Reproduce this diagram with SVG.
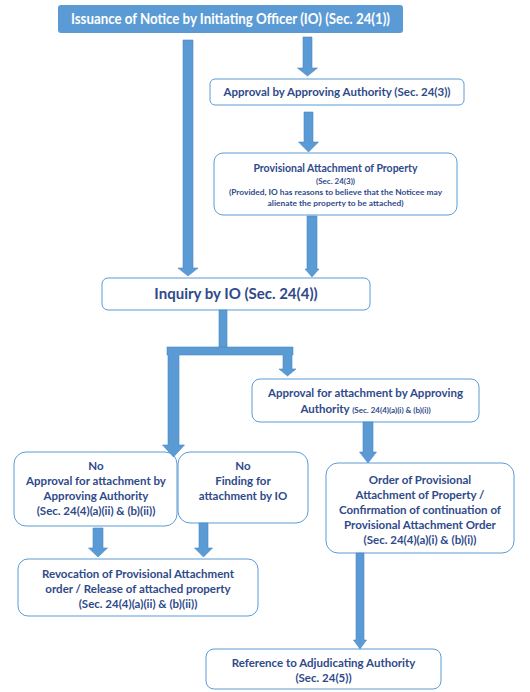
<svg xmlns="http://www.w3.org/2000/svg" width="530" height="692" viewBox="0 0 530 692">
<style>
.box{fill:#ffffff;stroke:#5b9bd5;stroke-width:1}
.arr{fill:#5b9bd5;stroke:#4a88c2;stroke-width:0.6}
text{font-family:Lato,"Liberation Sans",sans-serif;font-weight:bold;fill:#2f4a8a;text-anchor:middle}
.t{font-size:11.5px}
.s{font-size:8px}
</style>
<rect width="530" height="692" fill="#ffffff"/>
<g id="n-notice">
<rect x="58" y="5" width="345" height="28" rx="3" fill="#5b9bd5"/>
<text x="230.5" y="24" style="font-size:14.5px;fill:#ffffff" textLength="319" lengthAdjust="spacingAndGlyphs">Issuance of Notice by Initiating Officer (IO) (Sec. 24(1))</text>
</g>
<g id="n-approval">
<rect class="box" x="210" y="79" width="254" height="26" rx="5"/>
<text class="t" x="337" y="96">Approval by Approving Authority (Sec. 24(3))</text>
</g>
<g id="n-provisional">
<rect class="box" x="214" y="153" width="243" height="62" rx="9"/>
<text x="335.5" y="172" style="font-size:10.5px">Provisional Attachment of Property</text>
<text class="s" x="335.5" y="184">(Sec. 24(3))</text>
<text x="335.5" y="195" style="font-size:8.4px">(Provided, IO has reasons to believe that the Noticee may</text>
<text x="335.5" y="206" style="font-size:8.4px">alienate the property to be attached)</text>
</g>
<g id="n-inquiry">
<rect class="box" x="102" y="278" width="268" height="32" rx="6"/>
<text x="236" y="299" style="font-size:15px">Inquiry by IO (Sec. 24(4))</text>
</g>
<g id="n-approval-att">
<rect class="box" x="252" y="379" width="227" height="43" rx="8"/>
<text class="t" x="365.5" y="397">Approval for attachment by Approving</text>
<text class="t" x="365.5" y="413">Authority <tspan class="s">(Sec. 24(4)(a)(i) &amp; (b)(i))</tspan></text>
</g>
<g id="n-no-approval">
<rect class="box" x="14" y="452" width="163" height="74" rx="12"/>
<text class="t" x="96" y="470">No</text>
<text class="t" x="96" y="485">Approval for attachment by</text>
<text class="t" x="96" y="500">Approving Authority</text>
<text class="t" x="96" y="515">(Sec. 24(4)(a)(ii) &amp; (b)(ii))</text>
</g>
<g id="n-no-finding">
<rect class="box" x="178" y="452" width="130" height="71" rx="12"/>
<text class="t" x="243" y="470">No</text>
<text class="t" x="243" y="485">Finding for</text>
<text class="t" x="243" y="500">attachment by IO</text>
</g>
<g id="n-order">
<rect class="box" x="326" y="463" width="188" height="90" rx="12"/>
<text class="t" x="420" y="484">Order of Provisional</text>
<text class="t" x="420" y="499">Attachment of Property /</text>
<text class="t" x="420" y="514">Confirmation of continuation of</text>
<text class="t" x="420" y="529">Provisional Attachment Order</text>
<text class="t" x="420" y="544">(Sec. 24(4)(a)(i) &amp; (b)(i))</text>
</g>
<g id="n-revocation">
<rect class="box" x="18" y="559" width="240" height="57" rx="10"/>
<text class="t" x="138" y="578">Revocation of Provisional Attachment</text>
<text class="t" x="138" y="593">order / Release of attached property</text>
<text class="t" x="138" y="608">(Sec. 24(4)(a)(ii) &amp; (b)(ii))</text>
</g>
<g id="n-reference">
<rect class="box" x="206" y="649" width="235" height="40" rx="8"/>
<text class="t" x="323.5" y="667">Reference to Adjudicating Authority</text>
<text class="t" x="323.5" y="682">(Sec. 24(5))</text>
</g>
<g id="connectors">
<polygon class="arr" points="183,40 193,40 193,268 198,268 188,276 178,268 183,268"/>
<polygon class="arr" points="303,37 312,37 312,68 317.5,68 307.5,76 297.5,68 303,68"/>
<polygon class="arr" points="304,112 313,112 313,142 318.5,142 308.5,152 298.5,142 304,142"/>
<polygon class="arr" points="307,216 317,216 317,269 319,269 312,277 305,269 307,269"/>
<rect class="arr" x="219" y="310" width="8" height="40"/>
<polygon class="arr" points="167,347 293,347 293,355 292,355 292,369 296,369 287.5,376 279,369 283,369 283,355 179,355 179,445 184.5,445 173.5,457 162.5,445 168,445 168,355 167,355"/>
<polygon class="arr" points="363,422 373,422 373,452 376.5,452 368,463 359.5,452 363,452"/>
<polygon class="arr" points="356,553 364,553 364,640 366.5,640 360,649 353.5,640 356,640"/>
<polygon class="arr" points="93,528 103,528 103,548 107.5,548 98,557 88.5,548 93,548"/>
<polygon class="arr" points="199,523 208,523 208,548 212.5,548 203.5,557 194.5,548 199,548"/>
</g>
</svg>
